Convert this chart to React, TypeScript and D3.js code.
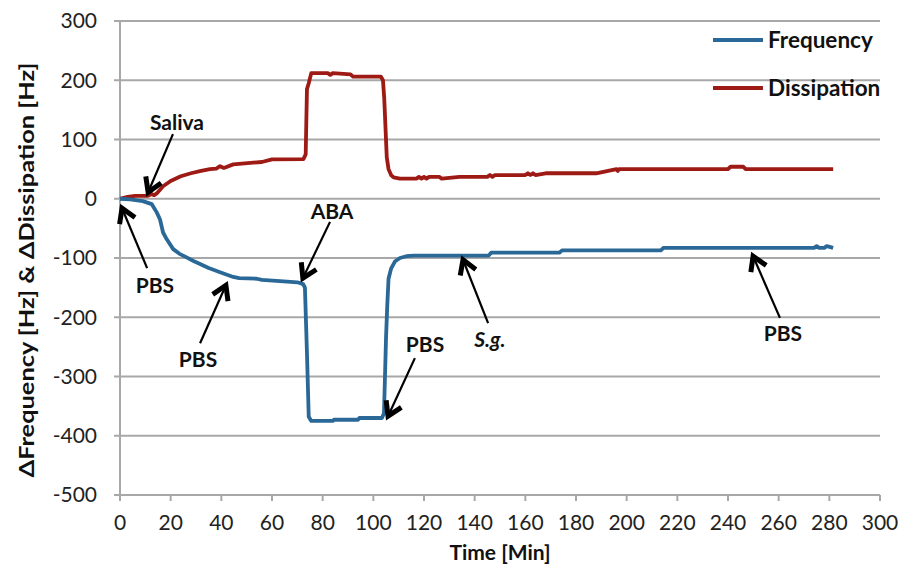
import React from 'react';
import * as d3 from 'd3';

// Frequency shift (blue), time in minutes
const freqTime = [0, 4, 9, 12.5, 14.5, 15.8, 17, 18.4, 21, 23.5, 26.3, 29, 31.6, 35, 39.5, 44.7, 47, 54, 56, 66, 70, 72.3, 73, 73.8, 74.5, 75.5, 84, 84.5, 94, 94.5, 103.4, 104.2, 104.6, 105, 105.5, 106, 107, 108.5, 110.5, 113, 116, 145.5, 146.5, 173.5, 174.5, 213.5, 214.5, 274, 275, 276, 278, 279, 281.5];
const freqValues = [0, -1, -4, -9, -23, -35, -57, -68, -85, -93, -99, -105, -110, -117, -124, -132, -134, -135, -137, -140, -141, -144, -150, -260, -368, -375, -375, -373, -373, -370, -370, -362, -300, -236, -180, -135, -118, -106, -100, -97, -96, -96, -91, -91, -87, -87, -83, -83, -80, -83, -83, -80, -83];

// Dissipation shift (red)
const dissTime = [0, 3, 6, 11, 12.5, 13.5, 14.5, 17, 20, 24, 28, 32, 35.5, 38, 39.5, 41, 44.7, 52.6, 56, 60, 72.4, 73.3, 73.8, 74.5, 75.5, 82, 83, 84, 91, 92, 103, 103.8, 104.3, 104.8, 105.3, 106, 107, 108, 110.5, 117, 118, 119, 120, 121, 122, 126, 127, 134, 145, 146, 147, 148, 160, 161, 162, 163, 164, 168, 188, 196, 196.5, 197, 240, 241, 246, 247, 281.5];
const dissValues = [0, 3, 5, 5, 8, 6, 9, 21, 30, 38, 43, 47, 50, 51, 55, 52, 58, 61, 62, 66.5, 67, 75, 185, 195, 212, 212, 209, 212, 210, 206, 206, 200, 170, 120, 70, 50, 40, 36, 34, 34, 37, 34, 37, 34, 37, 37, 34, 37, 37, 40, 37, 40, 40, 43, 40, 43, 40, 43, 43, 50, 47, 50, 50, 54, 54, 50, 50];

const xTicks = d3.range(0, 301, 20);
const yTicks = d3.range(-500, 301, 100);

// annotations: label centre, arrow tail and arrow tip, all in data units
const annoLabels = ['Saliva', 'PBS', 'ABA', 'PBS', 'PBS', 'S.g.', 'PBS'];
const annoText = [[22.5, 128], [13.8, -146], [83.7, -21], [30.8, -272], [120.4, -247], [146, -238], [261.7, -227]];
const annoTail = [[20.9, 109], [10.7, -117], [82.9, -39], [31.6, -244], [116.4, -269], [145.3, -210], [260.5, -201]];
const annoTip = [[11.1, 11], [0.8, -16], [72.2, -134], [41.8, -146], [105.8, -367], [135.4, -103], [249.9, -97]];

const BLUE = '#2a6897';
const RED = '#9e1a14';
const GRID = '#a8a8a8';
const FONT = 'Lato, "Open Sans", sans-serif';

export default function App() {
  const x = d3.scaleLinear().domain([0, 300]).range([120, 880]);
  const y = d3.scaleLinear().domain([-500, 300]).range([495, 21]);

  const line = d3.line<[number, number]>().x(d => x(d[0])).y(d => y(d[1]));
  const freqPts = freqTime.map((t, i) => [t, freqValues[i]] as [number, number]);
  const dissPts = dissTime.map((t, i) => [t, dissValues[i]] as [number, number]);

  const arrowHead = (tail: number[], tip: number[]) => {
    const tx = x(tip[0]), ty = y(tip[1]);
    const ang = Math.atan2(y(tail[1]) - ty, x(tail[0]) - tx);
    const len = 16, spread = 0.55;
    const a1 = [tx + len * Math.cos(ang + spread), ty + len * Math.sin(ang + spread)];
    const a2 = [tx + len * Math.cos(ang - spread), ty + len * Math.sin(ang - spread)];
    return `M${a1[0]},${a1[1]}L${tx},${ty}L${a2[0]},${a2[1]}`;
  };

  return (
    <svg width={908} height={571} style={{ position: 'absolute', left: 0, top: 0, background: '#fff' }} fontFamily={FONT}>
      {/* grid */}
      {yTicks.map(v => (
        <line key={'g' + v} x1={114} x2={880} y1={y(v)} y2={y(v)} stroke={GRID} strokeWidth={2} />
      ))}
      <line x1={x(0)} x2={x(0)} y1={y(300)} y2={y(-500)} stroke={GRID} strokeWidth={2} />
      {xTicks.map(t => (
        <line key={'xt' + t} x1={x(t)} x2={x(t)} y1={y(-500)} y2={y(-500) + 6} stroke={GRID} strokeWidth={2} />
      ))}

      {/* tick labels */}
      {yTicks.map(v => (
        <text key={'yl' + v} x={97} y={y(v)} dy="0.35em" textAnchor="end" fontSize={21} fill="#222">{v}</text>
      ))}
      {xTicks.map(t => (
        <text key={'xl' + t} x={x(t)} y={523} dy="0.35em" textAnchor="middle" fontSize={21} fill="#222">{t}</text>
      ))}

      {/* axis titles */}
      <text x={500} y={553} dy="0.35em" textAnchor="middle" fontSize={21} fontWeight="bold" fill="#111">Time [Min]</text>
      <text transform={`translate(27,270) rotate(-90)`} dy="0.35em" textAnchor="middle" fontSize={21} fontWeight="bold" fill="#111"
        textLength={415} lengthAdjust="spacingAndGlyphs">ΔFrequency [Hz] &amp; ΔDissipation [Hz]</text>

      {/* series */}
      <path d={line(dissPts) || ''} fill="none" stroke={RED} strokeWidth={3.8} strokeLinejoin="round" />
      <path d={line(freqPts) || ''} fill="none" stroke={BLUE} strokeWidth={3.8} strokeLinejoin="round" />

      {/* annotations */}
      {annoLabels.map((lab, i) => (
        <g key={'a' + i}>
          <line x1={x(annoTail[i][0])} y1={y(annoTail[i][1])} x2={x(annoTip[i][0])} y2={y(annoTip[i][1])} stroke="#000" strokeWidth={2.2} />
          <path d={arrowHead(annoTail[i], annoTip[i])} fill="none" stroke="#000" strokeWidth={5} strokeLinejoin="miter" />
          <text x={x(annoText[i][0])} y={y(annoText[i][1])} dy="0.35em" textAnchor="middle" fontSize={21} fontWeight="bold"
            fontStyle={lab === 'S.g.' ? 'italic' : 'normal'} fill="#111">{lab}</text>
        </g>
      ))}

      {/* legend */}
      <line x1={713} x2={763} y1={40} y2={40} stroke={BLUE} strokeWidth={3.8} />
      <text x={768} y={40} dy="0.35em" fontSize={22.5} fontWeight="bold" fill="#111">Frequency</text>
      <line x1={713} x2={763} y1={88} y2={88} stroke={RED} strokeWidth={3.8} />
      <text x={768} y={88} dy="0.35em" fontSize={22.5} fontWeight="bold" fill="#111">Dissipation</text>
    </svg>
  );
}
